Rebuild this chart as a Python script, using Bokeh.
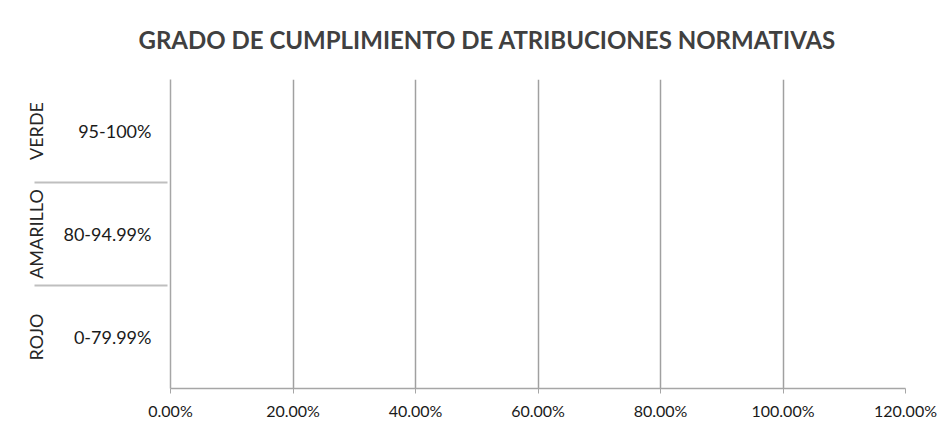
from bokeh.plotting import figure
from bokeh.models import FactorRange, Range1d, NumeralTickFormatter, FixedTicker
from bokeh.embed import file_html
from bokeh.resources import INLINE

# ---- data ----
groups = ["ROJO", "AMARILLO", "VERDE"]
ranges = ["0-79.99%", "80-94.99%", "95-100%"]
values = [0.0, 0.0, 0.0]
x_ticks = [0.0, 0.2, 0.4, 0.6, 0.8, 1.0, 1.2]
title_text = "GRADO DE CUMPLIMIENTO DE ATRIBUCIONES NORMATIVAS"

factors = list(zip(groups, ranges))

p = figure(
    width=939, height=432,
    y_range=FactorRange(*factors, group_padding=0, factor_padding=0, range_padding=0),
    x_range=Range1d(x_ticks[0], x_ticks[-1]),
    output_backend="svg", toolbar_location=None,
    min_border_left=170, min_border_right=34, min_border_top=78, min_border_bottom=44,
    title=title_text,
)
p.hbar(y=factors, right=values, height=0.6, color="#4472C4")

p.outline_line_color = None
p.background_fill_color = "white"
p.border_fill_color = "white"

# title
p.title.align = "left"
p.title.vertical_align = "top"
p.title.offset = -32
p.title.standoff = 48
p.title.text_font = "Lato"
p.title.text_font_style = "bold"
p.title.text_font_size = "24px"
p.title.text_color = "#404040"

# x axis
xa = p.xaxis[0]
xa.ticker = FixedTicker(ticks=x_ticks)
xa.formatter = NumeralTickFormatter(format="0.00%")
xa.axis_line_color = "#a6a6a6"
xa.axis_line_width = 1.5
xa.major_tick_line_color = "#a6a6a6"
xa.major_tick_out = 5
xa.major_tick_in = 0
xa.minor_tick_line_color = None
xa.major_label_text_font = "Lato"
xa.major_label_text_font_size = "16px"
xa.major_label_text_color = "#1a1a1a"
xa.major_label_standoff = 7

# y axis (nested categories)
ya = p.yaxis[0]
ya.axis_line_color = "#a6a6a6"
ya.axis_line_width = 1.5
ya.major_tick_line_color = None
ya.minor_tick_line_color = None
ya.major_label_text_font = "Lato"
ya.major_label_text_font_size = "18px"
ya.major_label_text_color = "#1a1a1a"
ya.major_label_standoff = 13
ya.group_text_font = "Lato"
ya.group_text_font_size = "18px"
ya.group_text_font_style = "normal"
ya.group_text_color = "#262626"
ya.group_label_orientation = "vertical"
ya.separator_line_color = "#bfbfbf"
ya.separator_line_width = 2

# grid
p.xgrid.ticker = FixedTicker(ticks=x_ticks)
p.xgrid.grid_line_color = "#a0a0a0"
p.xgrid.grid_line_width = 1.5
p.ygrid.visible = False

open("out.html", "w").write(file_html(p, INLINE))
